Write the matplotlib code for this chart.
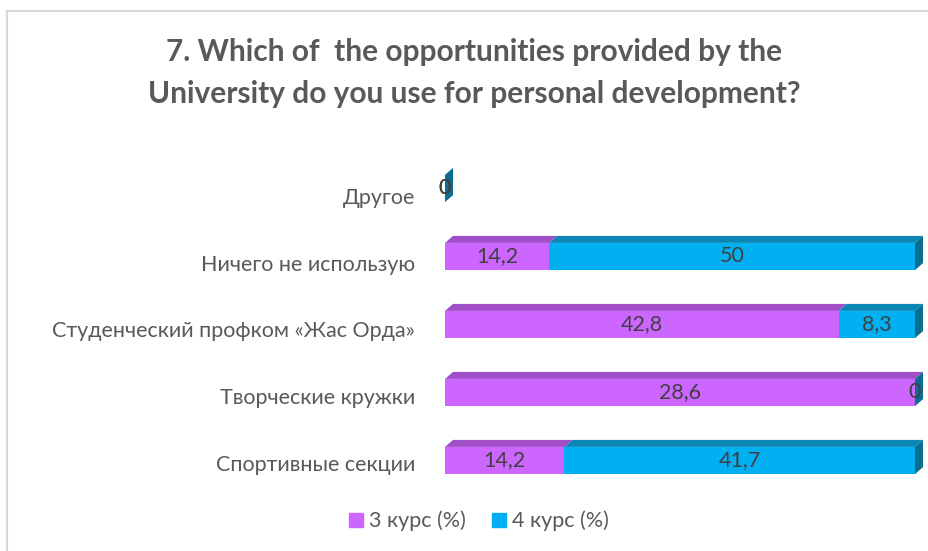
import matplotlib
matplotlib.use("Agg")
import matplotlib.pyplot as plt
from matplotlib.patches import Polygon, Rectangle
import matplotlib.transforms as mtransforms
import numpy as np

# Survey data (percent of respondents per course)
categories = [
    "Спортивные секции",
    "Творческие кружки",
    "Студенческий профком «Жас Орда»",
    "Ничего не использую",
    "Другое",
]
course3 = [14.2, 28.6, 42.8, 14.2, 0]
course4 = [41.7, 0, 8.3, 50, 0]
series_names = ["3 курс (%)", "4 курс (%)"]
title = "7. Which of  the opportunities provided by the\nUniversity do you use for personal development?"

FONT = "Lato"
plt.rcParams["font.family"] = [FONT, "DejaVu Sans"]

W, H, DPI = 929, 551, 100
fig = plt.figure(figsize=(W / DPI, H / DPI), dpi=DPI)
fig.patch.set_facecolor("white")

# chart frame
fig.add_artist(Rectangle((7.5 / W, -0.1), 1.2, 1 - 10.5 / H + 0.1,
                         transform=fig.transFigure, fill=False,
                         edgecolor="#D9D9D9", linewidth=1.5))

# plot area in pixels
x0, x1 = 445, 915
y_top, y_bot = 154.5, 494.5
ax = fig.add_axes([x0 / W, (H - y_bot) / H, (x1 - x0) / W, (y_bot - y_top) / H])
ax.set_xlim(0, 100)
ax.set_ylim(-0.5, len(categories) - 0.5)
ax.axis("off")

front = ["#CC66FF", "#00B0F0"]
topc = ["#A04FC8", "#0C86B4"]
sidec = ["#8A3FAE", "#0B6E90"]

bar_h = 0.4
# depth of the 3D faces in data units (8 px right, 7 px up)
dx = 8 / (x1 - x0) * 100
dy = 7 / ((y_bot - y_top) / len(categories))

data = np.array([course3, course4], dtype=float)
totals = data.sum(axis=0)
share = np.divide(data * 100, totals, out=np.zeros_like(data), where=totals > 0)

LABEL_SIZE = 15.5
ys = np.arange(len(categories))
for i in ys:
    left = 0.0
    for s in range(2):
        w = share[s, i]
        ax.barh(i, w, left=left, height=bar_h, color=front[s], linewidth=0, zorder=2)
        yt = i + bar_h / 2
        ax.add_patch(Polygon([(left, yt), (left + w, yt), (left + w + dx, yt + dy),
                              (left + dx, yt + dy)], closed=True, facecolor=topc[s],
                             edgecolor="none", clip_on=False, zorder=1))
        val = data[s, i]
        ax.text(left + w / 2, i, f"{val:g}".replace(".", ","), ha="center", va="center",
                fontsize=LABEL_SIZE, color="#404040", zorder=5, clip_on=False)
        left += w
    # right side face of the stack
    yb = i - bar_h / 2
    yt = i + bar_h / 2
    ax.add_patch(Polygon([(left, yb), (left, yt), (left + dx, yt + dy), (left + dx, yb + dy)],
                         closed=True, facecolor=sidec[1], edgecolor="none",
                         clip_on=False, zorder=3))

# category labels (category axis sits slightly below the bar fronts in the 3D view)
for i, c in enumerate(categories):
    off = mtransforms.ScaledTranslation(0, -(4.5 + 1.2 * i) / DPI, fig.dpi_scale_trans)
    ax.text(-30 / (x1 - x0) * 100, i, c, ha="right", va="center", fontsize=LABEL_SIZE,
            color="#595959", transform=ax.transData + off, clip_on=False)

fig.text(474 / W, 1 - 73 / H, title, ha="center", va="center", fontsize=21.5,
         fontweight="bold", color="#595959", linespacing=1.6)

# legend
handles = [Rectangle((0, 0), 1, 1, color=front[k]) for k in range(2)]
fig.legend(handles, series_names, loc="center", bbox_to_anchor=(479 / W, 1 - 521 / H),
           ncol=2, frameon=False, fontsize=LABEL_SIZE, handlelength=0.65, handleheight=0.65,
           handletextpad=0.3, columnspacing=1.2, labelcolor="#595959")

fig.savefig("out.png", dpi=DPI, facecolor="white")
